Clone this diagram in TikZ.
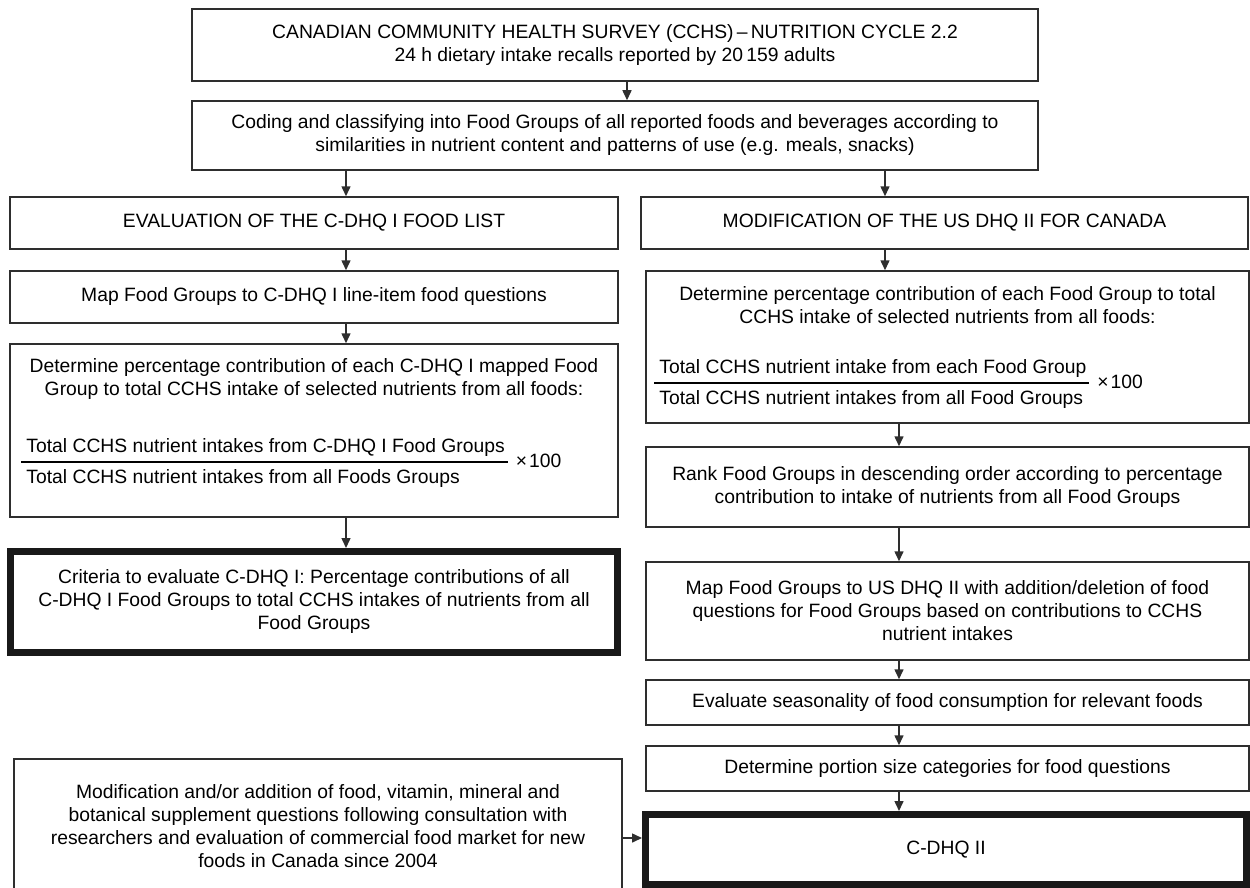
\documentclass[tikz,border=0pt]{standalone}
\usepackage{fontspec}
\setmainfont{Liberation Sans}
\usepackage{tikz}
\usetikzlibrary{calc}
\usetikzlibrary{positioning}
\usetikzlibrary{arrows.meta}
\definecolor{linegray}{HTML}{2E2E2E}
\newcommand{\boxfont}{\fontsize{19.3}{23}\selectfont}
\newcommand{\pctfrac}[2]{{\setlength{\arrayrulewidth}{1.4pt}\renewcommand{\arraystretch}{1.3}%
  \begin{tabular}{@{\hspace{5pt}}l@{\hspace{3pt}}}#1\\\hline #2\end{tabular}\hspace{8pt}×\hspace{2pt}100}}
\tikzstyle{stepbox} = [draw=linegray, line width=1.5pt, rectangle, align=center, inner sep=0pt, font=\boxfont]
\tikzstyle{endbox} = [draw=black!90, line width=7pt, rectangle, align=center, inner sep=0pt, font=\boxfont]
\tikzstyle{plaintext} = [inner sep=0pt, align=center, font=\boxfont]
\tikzstyle{flowarrow} = [draw=linegray, line width=1.5pt, -{Triangle[length=10pt,width=9pt]}]

\begin{document}
\begin{tikzpicture}[x=1pt, y=-1pt]
\useasboundingbox (0,0) rectangle (1250,888);
\node[stepbox, minimum width=846pt, minimum height=72pt] (survey) at (615,45) {CANADIAN COMMUNITY HEALTH SURVEY (CCHS)\,--\,NUTRITION CYCLE 2.2\\24 h dietary intake recalls reported by 20\,159 adults};
\node[stepbox, minimum width=846pt, minimum height=69pt] (coding) at ($(survey)+(0,90.5)$) {Coding and classifying into Food Groups of all reported foods and beverages according to\\similarities in nutrient content and patterns of use (e.g. meals, snacks)};

% left branch
\node[stepbox, minimum width=608pt, minimum height=52pt] (evalL) at ($(coding)+(-301,87.5)$) {EVALUATION OF THE C-DHQ I FOOD LIST};
\node[stepbox, minimum width=608pt, minimum height=52pt] (mapL) at ($(evalL)+(0,74)$) {Map Food Groups to C-DHQ I line-item food questions};
\node[stepbox, minimum width=608pt, minimum height=173pt] (detL) at ($(mapL)+(0,133.5)$) {};
\node[plaintext] (detLtxt) at ($(detL.north)+(0,36)$) {Determine percentage contribution of each C-DHQ I mapped Food\\Group to total CCHS intake of selected nutrients from all foods:};
\node[plaintext, anchor=west] (detLfrac) at ($(detL.west)+(12,31.5)$) {\pctfrac{Total CCHS nutrient intakes from C-DHQ I Food Groups}{Total CCHS nutrient intakes from all Foods Groups}};
\node[endbox, minimum width=607pt, minimum height=101pt] (crit) at ($(detL)+(0,171.5)$) {Criteria to evaluate C-DHQ I: Percentage contributions of all\\C-DHQ I Food Groups to total CCHS intakes of nutrients from all\\Food Groups};

% right branch
\node[stepbox, minimum width=607pt, minimum height=52pt] (mod) at ($(coding)+(329.5,87.5)$) {MODIFICATION OF THE US DHQ II FOR CANADA};
\node[stepbox, minimum width=603pt, minimum height=152pt] (detR) at ($(mod)+(3,124)$) {};
\node[plaintext] (detRtxt) at ($(detR.north)+(0,35)$) {Determine percentage contribution of each Food Group to total\\CCHS intake of selected nutrients from all foods:};
\node[plaintext, anchor=west] (detRfrac) at ($(detR.west)+(9,36)$) {\pctfrac{Total CCHS nutrient intake from each Food Group}{Total CCHS nutrient intakes from all Food Groups}};
\node[stepbox, minimum width=603pt, minimum height=80pt] (rank) at ($(detR)+(0,140)$) {Rank Food Groups in descending order according to percentage\\contribution to intake of nutrients from all Food Groups};
\node[stepbox, minimum width=603pt, minimum height=98pt] (mapUS) at ($(rank)+(0,124)$) {Map Food Groups to US DHQ II with addition/deletion of food\\questions for Food Groups based on contributions to CCHS\\nutrient intakes};
\node[stepbox, minimum width=603pt, minimum height=45pt] (evalS) at ($(mapUS)+(0,91.5)$) {Evaluate seasonality of food consumption for relevant foods};
\node[stepbox, minimum width=603pt, minimum height=45pt] (portion) at ($(evalS)+(0,66)$) {Determine portion size categories for food questions};
\node[endbox, minimum width=601pt, minimum height=70pt] (cdhq) at ($(portion)+(-1.5,81)$) {C-DHQ II};
\node[stepbox, minimum width=608pt, minimum height=134pt] (modif) at ($(crit)+(4,224)$) {Modification and/or addition of food, vitamin, mineral and\\botanical supplement questions following consultation with\\researchers and evaluation of commercial food market for new\\foods in Canada since 2004};

% arrow columns
\coordinate (colT) at (627,0);
\coordinate (colL) at (346,0);
\coordinate (colR) at (885,0);
\coordinate (colS) at (899,0);
\draw[flowarrow] (survey.south -| colT) -- (coding.north -| colT);
\draw[flowarrow] (coding.south -| colL) -- (evalL.north -| colL);
\draw[flowarrow] (evalL.south -| colL) -- (mapL.north -| colL);
\draw[flowarrow] (mapL.south -| colL) -- (detL.north -| colL);
\draw[flowarrow] (detL.south -| colL) -- (crit.north -| colL);
\draw[flowarrow] (coding.south -| colR) -- (mod.north -| colR);
\draw[flowarrow] (mod.south -| colR) -- (detR.north -| colR);
\draw[flowarrow] (detR.south -| colS) -- (rank.north -| colS);
\draw[flowarrow] (rank.south -| colS) -- (mapUS.north -| colS);
\draw[flowarrow] (mapUS.south -| colS) -- (evalS.north -| colS);
\draw[flowarrow] (evalS.south -| colS) -- (portion.north -| colS);
\draw[flowarrow] (portion.south -| colS) -- (cdhq.north -| colS);
\draw[flowarrow] (modif.east |- 0,838) -- (cdhq.west |- 0,838);
\end{tikzpicture}
\end{document}
